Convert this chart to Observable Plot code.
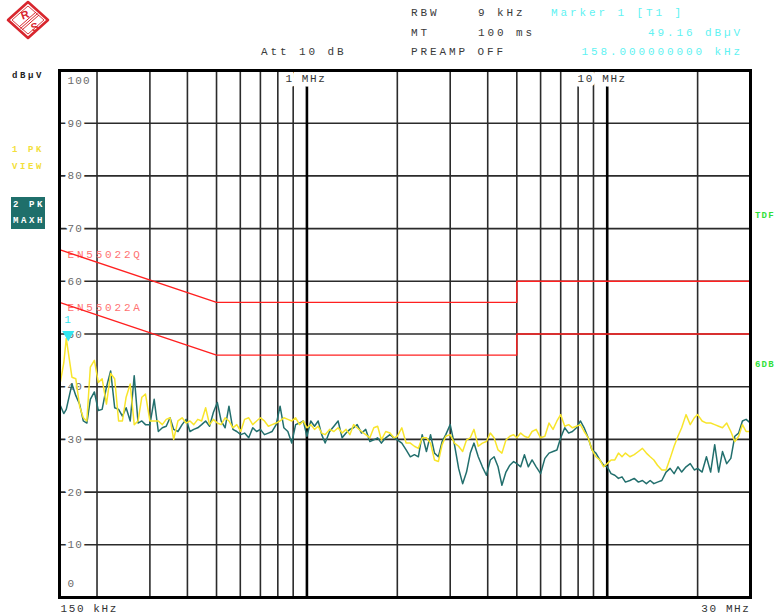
<!DOCTYPE html>
<html>
<head>
<meta charset="utf-8">
<script src="https://cdn.jsdelivr.net/npm/d3@7"></script>
<script src="https://cdn.jsdelivr.net/npm/@observablehq/plot@0.6"></script>
<style>
  html, body { margin: 0; padding: 0; background: #fff; overflow: hidden; }
  #wrap { position: relative; width: 777px; height: 614px; overflow: hidden; background: #fff; }
  #chart { position: absolute; left: 0; top: 0; }
  .h { position: absolute; font-family: "Liberation Mono", monospace; font-size: 11px; line-height: 12px;
       letter-spacing: 2.9px; color: #3a3a3a; white-space: pre; }
  .c { color: #5ff2f2; }
  .s { position: absolute; font-family: "Liberation Mono", monospace; font-size: 9px; font-weight: bold;
       line-height: 10px; letter-spacing: 2.6px; white-space: pre; }
  .box { background: #1f6f6b; color: #fff; padding: 3px 0 3px 2px; width: 32px; }
  .edge { letter-spacing: 1.2px; }
</style>
</head>
<body>
<div id="wrap">
  <svg style="position:absolute;left:6px;top:0px" width="46" height="42" viewBox="0 0 46 42">
    <polygon points="22,2 42,20 22,38 2,20" fill="#fff" stroke="#d8262e" stroke-width="2.6" stroke-linejoin="round"/>
    <polygon points="22,6 38,20 22,34 6,20" fill="none" stroke="#d8262e" stroke-width="0.9"/>
    <line x1="13" y1="27" x2="30" y2="12" stroke="#d8262e" stroke-width="1"/>
    <line x1="14.5" y1="28.5" x2="31.5" y2="13.5" stroke="#d8262e" stroke-width="1"/>
    <line x1="16" y1="30" x2="33" y2="15" stroke="#d8262e" stroke-width="1"/>
    <text x="15" y="19" font-family="Liberation Sans, sans-serif" font-weight="bold" font-size="11" fill="#d8262e" transform="rotate(-20 18 15)">R</text>
    <text x="25" y="31" font-family="Liberation Sans, sans-serif" font-weight="bold" font-size="11" fill="#d8262e" transform="rotate(-20 28 27)">S</text>
  </svg>
  <div id="chart"></div>
  <div class="h" style="left:411px;top:7px">RBW</div>
  <div class="h" style="left:478px;top:7px">9 kHz</div>
  <div class="h c" style="left:551px;top:7px">Marker 1 [T1 ]</div>
  <div class="h" style="left:411px;top:27px">MT</div>
  <div class="h" style="left:478px;top:27px">100 ms</div>
  <div class="h c" style="right:34px;top:27px">49.16 dBµV</div>
  <div class="h" style="left:261px;top:46px">Att 10 dB</div>
  <div class="h" style="left:411px;top:46px">PREAMP OFF</div>
  <div class="h c" style="right:34px;top:46px">158.000000000 kHz</div>
  <div class="s" style="left:12px;top:71px;color:#222">dBµV</div>
  <div class="s" style="left:12px;top:145px;color:#f3e03a">1 PK</div>
  <div class="s" style="left:12px;top:162px;color:#f3e03a">VIEW</div>
  <div class="s box" style="left:11px;top:197px">2 PK</div>
  <div class="s box" style="left:11px;top:213px">MAXH</div>
  <div class="s edge" style="left:755px;top:211px;color:#2fe03a">TDF</div>
  <div class="s edge" style="left:755px;top:360px;color:#2fe03a">6DB</div>
</div>
<script>
// Sweep frequencies (kHz)
const freqKHz = [
  150,155,158,165,170,175,180,185,190,196,
  202,208,215,222,229,236,243,250,258,266,
  274,282,290,300,310,320,330,340,350,360,
  372,384,396,408,420,433,446,460,474,488,
  503,518,534,550,567,584,602,620,640,660,
  680,700,722,744,766,790,814,838,864,890,
  917,945,973,
  1000,1030,1060,1090,1120,1150,1190,1230,1270,1310,
  1350,1390,1430,1470,1520,1570,1620,1670,1720,1770,
  1830,1890,1950,2000,2070,2140,2210,2280,2350,2420,
  2500,2580,2660,2740,2820,2900,3000,3100,3200,3300,
  3400,3500,3600,3720,3840,3960,4080,4200,4330,4460,
  4600,4740,4880,5000,5150,5300,5460,5620,5800,6000,
  6200,6400,6600,6800,7000,7220,7440,7660,7900,8140,
  8380,8640,8900,9170,9450,9730,
  10000,10300,10600,10900,11200,11500,11900,12300,12700,13100,
  13500,13900,14300,14700,15200,15700,16200,16700,17200,17700,
  18300,18900,19500,20000,20700,21400,22100,22800,23500,24200,
  25000,25800,26600,27400,28200,29000,30000
];
// Trace 1: PK VIEW (yellow), dBµV
const trace1PK = [
  40.0,44.5,49.16,41.8,41.5,36.3,34.1,33.5,43.7,45.0,
  40.8,41.5,36.7,42.5,41.5,33.5,33.5,38.0,40.5,32.8,
  33.5,38.0,38.6,33.5,33.5,33.5,32.8,33.8,34.1,30.0,
  33.5,34.1,33.1,33.5,32.8,33.8,33.5,36.0,32.8,33.8,
  33.1,32.8,34.1,33.5,32.2,32.8,31.5,33.8,34.1,32.8,
  33.5,34.1,33.5,32.5,32.8,33.1,33.5,34.1,33.8,33.5,
  34.1,32.8,33.5,
  32.2,32.8,31.9,32.5,31.2,30.9,31.9,31.5,32.2,31.2,
  31.9,30.9,32.8,32.2,31.5,30.9,30.3,32.2,32.5,29.9,
  31.5,31.2,30.3,30.6,32.2,29.3,29.3,28.7,28.3,30.3,
  30.3,29.3,26.1,25.8,29.0,30.6,30.9,29.3,28.7,27.7,
  29.9,30.3,31.9,28.7,29.3,29.6,31.2,30.3,28.0,27.4,
  29.9,30.6,30.9,30.3,31.2,30.6,30.3,31.5,31.9,30.3,
  30.6,33.1,31.9,33.5,34.7,32.5,32.8,32.2,32.5,32.8,
  31.5,30.3,28.0,26.7,26.1,24.8,
  25.4,26.1,26.1,27.4,26.7,27.4,26.7,27.1,27.7,28.3,
  27.4,26.7,26.1,25.1,24.2,24.2,26.4,28.7,30.6,32.2,
  34.7,32.8,34.1,34.7,33.5,33.1,33.1,32.8,32.5,32.2,
  33.1,31.5,29.6,30.6,32.8,31.5,31.5
];
// Trace 2: PK MAXH (teal), dBµV
const trace2PK = [
  36.8,34.9,35.7,40.5,38.3,36.7,33.5,33.1,37.6,39.0,
  35.5,35.7,39.9,43.0,36.0,35.7,34.4,36.0,33.5,42.1,
  33.1,33.5,32.8,32.8,37.6,31.5,32.2,32.5,34.1,31.9,
  31.5,32.8,33.8,31.5,31.9,32.2,32.8,33.5,32.5,35.1,
  37.0,33.5,32.2,36.3,31.9,31.5,30.9,31.2,30.3,32.2,
  31.5,31.9,30.9,31.2,31.5,32.8,36.3,32.2,31.5,29.3,
  32.8,33.1,33.5,
  30.6,33.5,32.5,33.5,30.9,29.3,31.5,32.5,33.5,30.3,
  31.2,31.9,32.2,32.8,31.2,31.9,29.6,29.9,30.3,29.3,
  30.3,30.9,30.3,29.9,29.3,28.0,26.7,27.1,26.7,30.9,
  27.7,30.9,27.4,26.7,29.6,30.9,32.8,29.0,24.5,21.6,
  23.8,27.4,29.3,26.7,24.8,23.2,26.1,26.7,24.8,21.3,
  23.8,25.1,25.8,25.4,24.8,27.1,24.8,26.1,24.8,23.5,
  26.4,27.4,27.7,28.0,30.3,32.2,31.2,31.5,32.2,33.5,
  32.2,30.3,28.0,27.4,26.1,25.1,
  24.8,23.5,23.2,22.6,22.9,21.9,22.2,22.6,21.9,22.2,
  21.6,22.2,21.6,21.9,22.2,23.8,24.5,23.5,24.8,23.8,
  24.8,25.4,24.2,24.5,23.8,26.7,23.8,29.0,23.8,27.7,
  25.4,26.4,30.6,31.2,33.5,33.8,33.1
];
// Limit lines EN55022 (MHz, dBµV)
const limitFreqMHz = [0.15, 0.5, 5, 5, 30];
const limitQP = [66, 56, 56, 60, 60];
const limitAV = [56, 46, 46, 50, 50];
// Grid / tick values
const yTicks = [0,10,20,30,40,50,60,70,80,90,100];
const xGridMinor = [0.2,0.3,0.4,0.5,0.6,0.7,0.8,0.9,2,3,4,5,6,7,8,9,20];
const xGridMajor = [1, 10];
const xTickLabels = [{f: 1, label: "1 MHz"}, {f: 10, label: "10 MHz"}];
const marker = [{f: 0.158, v: 49.16, label: "1"}];

const rows = freqKHz.map((f, i) => ({f: f / 1000, pk: trace1PK[i], mx: trace2PK[i]}));
const qp = limitFreqMHz.map((f, i) => ({f, v: limitQP[i]}));
const av = limitFreqMHz.map((f, i) => ({f, v: limitAV[i]}));
const midTicks = yTicks.filter(d => d > 0 && d < 100);

const chart = Plot.plot({
  width: 777, height: 614,
  marginTop: 70, marginBottom: 17, marginLeft: 59, marginRight: 27,
  x: {type: "log", domain: [0.15, 30], axis: null},
  y: {domain: [0, 100], axis: null},
  style: {fontFamily: "'Liberation Mono', monospace", fontSize: "11px", background: "transparent", overflow: "visible"},
  marks: [
    Plot.ruleY(midTicks, {y: d => d, stroke: "#2b2b2b", strokeWidth: 1.6}),
    Plot.ruleX(xGridMinor, {x: d => d, stroke: "#2b2b2b", strokeWidth: 1.6}),
    Plot.ruleX(xGridMajor, {x: d => d, stroke: "#000", strokeWidth: 2.6}),
    Plot.text(midTicks, {y: d => d, text: d => String(d), frameAnchor: "left", dx: 8, textAnchor: "start",
      fill: "#6a6a6a", stroke: "white", strokeWidth: 6}),
    Plot.text([100], {y: d => d, text: d => String(d), frameAnchor: "left", dx: 8, dy: 10, textAnchor: "start",
      fill: "#6a6a6a"}),
    Plot.text([0], {y: d => d, text: d => String(d), frameAnchor: "left", dx: 8, dy: -14, textAnchor: "start",
      fill: "#6a6a6a"}),
    Plot.text(xTickLabels.filter(d => d.f === 1), {x: "f", y: () => 100, text: "label", dy: 8, dx: -1, textAnchor: "middle",
      fill: "#333", stroke: "white", strokeWidth: 9}),
    Plot.text(xTickLabels.filter(d => d.f === 10), {x: "f", y: () => 100, text: "label", dy: 8, dx: -5, textAnchor: "middle",
      fill: "#333", stroke: "white", strokeWidth: 9}),
    Plot.text([{f: 0.15, label: "150 kHz"}], {x: "f", y: () => 0, text: "label", dy: 11, dx: 1, textAnchor: "start",
      fill: "#333"}),
    Plot.text([{f: 30, label: "30 MHz"}], {x: "f", y: () => 0, text: "label", dy: 11, dx: 0, textAnchor: "end",
      fill: "#333"}),
    Plot.text([{v: 66, label: "EN55022Q"}, {v: 56, label: "EN55022A"}], {y: "v", text: "label", frameAnchor: "left",
      dx: 8, dy: 5, textAnchor: "start", fill: "#ff7272"}),
    Plot.line(qp, {x: "f", y: "v", stroke: "#ff2020", strokeWidth: 1.4}),
    Plot.line(av, {x: "f", y: "v", stroke: "#ff2020", strokeWidth: 1.4}),
    Plot.line(rows, {x: "f", y: "mx", stroke: "#226f6d", strokeWidth: 1.5}),
    Plot.line(rows, {x: "f", y: "pk", stroke: "#f8e52c", strokeWidth: 1.5}),
    Plot.dot(marker, {x: "f", y: "v", symbol: "triangle", rotate: 180, r: 4.5, fill: "#33e6f0", stroke: "none", dy: -4, dx: 2}),
    Plot.text(marker, {x: "f", y: "v", text: "label", fill: "#33e6f0", dy: -19, dx: 2}),
    Plot.frame({stroke: "#000", strokeWidth: 3})
  ]
});
// letter spacing of the analyzer's monospaced labels
d3.select(chart).selectAll("text").each(function () {
  const t = this.textContent;
  let ls = "1.2px";
  if (t.startsWith("EN")) ls = "2.8px";
  else if (/Hz/.test(t)) ls = "1.6px";
  this.style.letterSpacing = ls;
});
document.getElementById("chart").appendChild(chart);
</script>
</body>
</html>
